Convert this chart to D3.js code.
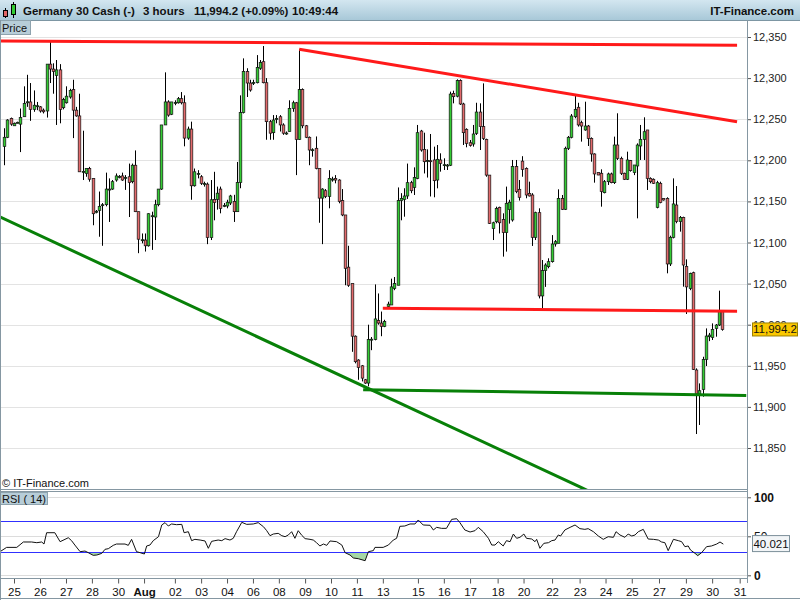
<!DOCTYPE html>
<html><head><meta charset="utf-8">
<script src="https://cdn.jsdelivr.net/npm/d3@7"></script>
<style>body{margin:0;background:#fff;} svg{display:block;font-family:"Liberation Sans",Arial,sans-serif;}</style>
</head><body><svg id="c" width="800" height="600"></svg>
<script>
// ---------------- DATA ----------------
const opens=[12217,12228,12251,12242,12245.5,12244,12253,12270.7,12271,12262,12266,12265,12261,12260,12317,12311,12303,12310,12264,12270,
12277,12286,12261,12254,12186,12184,12190,12178,12137.5,12139,12145.5,12146,12164.6,12165,12176,12180,12181,12178.8,12180,12174,
12194,12137.5,12103,12103,12096,12132.2,12131,12146,12165,12243,12271,12256,12270,12270,12275,12270,12227,12238,12169,12183.4,
12180,12171.2,12171,12106,12152.5,12152.5,12165,12144.8,12144.4,12148,12150,12137.5,12173,12258,12308,12294,12294.4,12294.4,12312,12320,
12294.4,12247,12233.6,12250.7,12253,12243,12232.8,12235,12263,12270,12225.5,12286,12242,12228,12212.5,12214.6,12190,12154,12163,12156,
12176.8,12178,12176,12151,12133.5,12070,12050,11986,11957,11950,11933,11929,11982,11982,12005,12002,11998,12022,12024,12044,
12048,12151,12152.5,12156.6,12172.8,12167,12178,12235.6,12213.3,12199.5,12199.5,12200.4,12176,12200.4,12194.3,12193.9,12194,12281.4,12278,12296.9,
12268.5,12237.7,12221.4,12219.8,12232.8,12258.7,12241,12225.5,12182,12117,12125.3,12142.8,12128,12112,12140,12127.4,12192.3,12164.7,12199,12190.2,
12159.8,12157.8,12106.3,12136.3,12035,12065.8,12070.6,12076.7,12098.2,12099,12153.7,12140.4,12214.6,12228,12253,12264.5,12245.8,12236.9,12241.7,12226.7,
12207.7,12185,12184.2,12160.6,12174,12183.4,12172.8,12218.6,12202.4,12184.2,12176.9,12199.6,12185,12193.1,12217.4,12225.5,12236.9,12178,12176.9,12142.8,
12172,12153.7,12153.7,12073.9,12106.3,12145.6,12125.4,12130.6,12071,12044.2,12063.3,11944.9,11915.7,11921.3,11957.8,11985.4,11984.6,11995.5,11999.6,12015.8];
const highs=[12239,12250,12252,12246,12247,12263,12290,12304,12294,12285,12271,12266,12263,12317,12346,12318,12322,12317,12276,12290,
12287,12298,12265,12281,12236,12190,12192,12178,12139.5,12162,12148,12185,12178,12176,12184,12182,12185,12182,12196,12196,
12212,12137.5,12111,12111,12135.5,12137.5,12152,12165,12243,12307,12273,12271,12273,12277,12283,12279,12241,12247,12190,12188,
12182,12174,12173,12176,12186,12168,12168,12148,12152,12158,12158,12198,12279,12324,12312,12298,12298,12328,12322,12339,
12300,12249,12255,12255,12255,12245,12235,12273,12272.5,12271,12335,12287.5,12243,12229,12214.6,12229,12190,12166,12165,12188,
12180,12182,12177,12165,12133.5,12096,12050,11987,11958,11951,11934,12000,11985,12049,12038,12016,12006,12028,12056,12058,
12167,12160,12166,12196,12175,12191.4,12243,12237,12233.6,12213.3,12232,12216.6,12218.6,12208.5,12202.4,12195.5,12283.5,12284.7,12298.5,12298.5,
12270,12238.9,12224.7,12243,12270,12269.3,12293.6,12226.3,12182,12125.3,12143.6,12143.6,12135.5,12168,12152,12200.4,12200.4,12176,12205,12191.4,
12174,12160,12137.5,12141.6,12078.7,12074.7,12080.8,12109,12103,12164.7,12157.8,12216.6,12229.6,12256.3,12278.2,12270,12248.2,12271.3,12243,12227.9,
12208.5,12185,12189,12176,12185,12185,12228.8,12257.2,12204.4,12185,12210.5,12200.4,12194.3,12220.6,12243,12252.3,12236.9,12179.3,12178,12175,
12174,12153.7,12155,12108.3,12178,12168.7,12132.2,12131.4,12079.5,12063.3,12064.5,11946.9,11928.6,11961,11995.5,11990,12001.6,12000.8,12041.4,12017];
const lows=[12194,12227,12242,12242,12245,12210,12253,12265,12248,12259,12261,12258,12257,12252,12294,12281,12243,12245,12262,12269,
12275,12227,12253,12186,12176,12180,12174,12121,12135.5,12107,12096,12144,12125,12164,12174,12178,12175,12164,12131,12172,
12137,12087,12099,12089,12095,12091,12103,12144,12164,12243,12253,12255,12267,12269,12268,12217,12225,12152,12168,12178,
12170,12168,12098,12103,12127,12140,12135.5,12143,12141.6,12145.6,12125,12137.5,12166,12257,12277,12283.5,12291.6,12293.6,12310,12293.6,
12225,12225,12225,12245,12235,12231,12231,12235,12259,12182,12225,12239,12227,12194,12204.4,12189,12124,12098,12154,12141.6,
12174,12172,12147.7,12132,12048,12046,11967,11953,11933,11931,11928,11925,11969,11981,12000,11986,11997,12021,12024,12042,
12048,12127,12131.4,12153,12160,12157.8,12177,12210.5,12184,12179,12156,12155,12165.9,12186.2,12188.2,12188.2,12193,12269.3,12276.6,12267.3,
12218.6,12215.8,12216.6,12216.6,12230.8,12212.5,12224.7,12180,12122.5,12103,12123.3,12111,12082.8,12088.9,12123,12125.4,12160,12151,12180,12153.8,
12156,12095.8,12103,12032,12020,12046,12068.6,12075.5,12095,12099,12139.5,12139.5,12212.5,12226.7,12251.1,12241,12222.7,12236,12217.4,12198.3,
12172.8,12182,12143.6,12159.8,12170,12172,12171.2,12200.4,12182.1,12176,12176,12186.2,12182,12129.4,12200.4,12200.4,12163.9,12172,12171.2,12141.6,
12147.7,12151,12062.5,12071.4,12105,12123.4,12113.2,12046.3,12013,12042,11944.9,11867,11878,11912.4,11949.7,11980,11981.4,11985.4,11998.4,11992.7];
const closes=[12228,12249,12244,12245,12246.2,12252,12269,12271.2,12262,12267,12266.4,12260,12259,12317,12311,12308,12310,12262,12274,12278,
12285,12261,12254,12186,12186.5,12190,12177,12135,12138,12144,12146,12165,12165,12174,12181,12180.4,12176,12179.2,12173,12194,
12137.5,12104,12103.4,12096,12135,12132.6,12146,12165,12243,12271,12255,12271,12270.4,12275,12270,12227,12238,12169,12186,12183.8,
12172,12171.6,12106,12152,12148.5,12160,12141.5,12145.2,12149,12156.6,12137.5,12173,12258,12308,12294,12285.5,12294.8,12313,12319,12294.4,
12247,12233,12249,12251,12243,12233,12233.2,12263,12270,12225.5,12286,12242,12228,12212.5,12212.9,12190,12154,12165,12156,12178,
12177.2,12176,12150,12133.5,12068.6,12048,11986,11955,11948,11935,11929,11982,11982.4,12007,12002,11998,12004,12025,12046,12050,
12151,12153.7,12156.6,12172.8,12163,12179,12233.6,12212.5,12198.3,12199.9,12199,12175.2,12201.2,12196.3,12194.7,12194.2,12280.6,12277.4,12296.9,12268.5,
12233.6,12220.6,12218.2,12232,12258.7,12241,12226.7,12182,12123.3,12124,12141.5,12124,12112,12147.7,12149,12192.3,12161.9,12155,12189,12157.8,
12156.6,12106.3,12136.3,12035,12065.8,12072.6,12076.7,12098.2,12101,12153.7,12140.4,12214.6,12228,12253.9,12262,12243,12241.7,12241.7,12226.7,12207.7,
12183.4,12182.1,12161.9,12174,12183.4,12172.8,12218.6,12202.4,12184.2,12176.9,12200.4,12187.4,12194.3,12218.6,12225.5,12234.8,12178,12174,12172,12172.8,
12148.5,12151.7,12073.9,12106.3,12146.9,12125.4,12130.6,12072.6,12046,12062.4,11945.7,11915.7,11919.7,11957.8,11986.2,11987.4,11994.3,11999.6,12015.8,11994.2];

// RSI(14) polyline vertices: candle position and value
const rsiIdx=[-1.2,0.8,3.9,5.9,8.4,10,11.5,12.2,13,15.5,17.1,18.6,19.6,20.6,21.6,23.2,24.7,25.7,27.2,28.3,29.8,30.8,31.8,33.3,34.3,36.9,37.9,38.9,40.4,41.5,42.8,43.5,44.5,45.5,47.1,48.1,49.1,50.1,51.1,52.6,54.2,54.9,56.2,57.2,58.2,59.8,61.3,62.3,63.3,64.3,65.3,66.4,67.4,68.9,69.9,70.9,72.5,74,76,77.5,79.1,80.1,81.1,82.1,83.6,84.7,85.7,86.7,87.7,88.7,89.7,90.8,91.8,93.3,94.3,95.3,96.3,97.4,98.4,99.4,101.4,103,104,105.5,106.5,108,110.1,111.1,112.6,113.1,115.6,117.2,118.7,119.7,120.7,
122.2,123.8,125.3,126.3,127.8,129.9,130.9,131.9,133.4,134.9,136.5,138,139,140.5,142.1,143.6,144.6,146.1,147.7,148.7,149.7,150.7,152.2,153.2,154.3,155.3,156.3,157.3,158.5,159.3,160.9,161.9,162.4,163.4,164.6,166,167,168,169,169.7,171,172.6,174.1,175.6,177.1,178.1,179.7,181.2,182.7,184.2,185.8,186.6,187.8,189.3,190.3,191.4,192.4,193.4,194.9,196.4,198,199.5,200.5,201.5,202.5,204.1,205.6,206.6,207.6,208.6,209.3,210.7,211.5,212.7,214.2,215.7,217.3,218.3,219.3];
const rsiVal=[30.3,35.8,35.8,42.7,42.7,41.8,42.7,40.1,54.6,54.6,43.1,46.1,48.2,44.4,38.8,30.3,31.1,29,25.6,26,28.1,33.3,34.1,38.4,40.1,40.1,38.4,46.1,30.3,29,27.3,37.6,38.8,44.4,49.5,64.5,67.5,63.2,65.8,64.9,65.3,54.6,55.9,44.4,46.1,45.2,44,34.6,43.5,44.4,45.2,44.4,47,45.2,47.4,55.9,67.9,65.3,65.8,67.5,62.3,57.2,50.8,52.9,53.8,50.8,49.5,51.7,55.9,47.4,57.2,51.2,47,46.1,45.2,41.8,37.6,40.1,38.4,44,43.1,38.8,29,26,22.2,21.3,18.7,30.3,31.6,35.8,35.8,38.8,45.2,47.4,62.8,
63.2,65.8,65.8,70.9,64.5,64.1,58.1,61.5,60.2,60.2,71.7,72.6,67.5,58.1,55.5,57.2,61.5,55.9,47.4,38.8,38.8,43.1,37.6,44.4,43.1,52.9,47.4,48.7,52.9,47.4,46.5,43.1,46.1,34.6,41,41.8,44.4,45.2,51.7,50.4,58.1,61.5,64.5,59.8,58.9,59.8,55.9,50.4,46.1,49.5,48.7,55.9,51.7,48.7,52.9,50.4,51.7,55.9,58.9,46.5,46.1,45.2,42.7,41.8,31.6,46.1,44.4,43.1,36.7,37.6,32.4,28.1,25.2,29,36.7,37.6,40.1,42.7,40.021];

const priceTicks=[11850,11900,11950,12000,12050,12100,12150,12200,12250,12300,12350];
const rsiGrid=[0,50,100];
const rsiLevels=[30,70];
const dateTickIdx=[3.05,10.98,18.9,26.8,34.8,42.7,52.1,60.1,68,75.9,83.8,91.8,99.7,107.6,115.5,126.2,134.1,142.1,150.5,158.4,167.1,175.5,183.4,191.4,199.7,207.9,215.9,224.3];
const dateTickLabels=["25","26","27","28","30","Aug","02","03","04","06","08","09","10","11","13","15","16","17","18","20","22","23","24","25","27","29","30","31"];

// trend lines as [candle position, price]
const redTopLine=[[-1.2,12345],[223.5,12340]];
const redFallingLine=[[90,12335],[223.5,12247]];
const redSupportLine=[[115.5,12020],[223.5,12016.5]];
const greenFlatLine=[[109.5,11921],[226.3,11914]];
const greenFallingLine=[[-1.2,12131],[175.6,11802.6],[180,11794.4]];

const lastPrice=11994.2, lastRsi=40.021;
const headerTitle="Germany 30 Cash (-)", headerPeriod="3 hours", headerQuote="11,994.2 (+0.09%)", headerTime="10:49:44";

// ---------------- DRAW ----------------
const svg=d3.select('#c');
const border='#8597a2';
const x=d3.scaleLinear().domain([0,opens.length-1]).range([4,722.3]);
const y=d3.scaleLinear().domain([11850,12350]).range([448,37]);
const yr=d3.scaleLinear().domain([0,100]).range([575.3,497.3]);
const AX=747;

const defs=svg.append('defs');
const hg=defs.append('linearGradient').attr('id','hg').attr('x1',0).attr('y1',0).attr('x2',0).attr('y2',1);
hg.append('stop').attr('offset','0%').attr('stop-color','#d3e6f0');
hg.append('stop').attr('offset','100%').attr('stop-color','#a8c8d8');
defs.append('clipPath').attr('id','cp').append('rect').attr('x',1).attr('y',21).attr('width',AX-1).attr('height',468);
defs.append('clipPath').attr('id','cr').append('rect').attr('x',1).attr('y',492).attr('width',AX-1).attr('height',86);
defs.append('clipPath').attr('id','below30').append('rect').attr('x',1).attr('y',yr(30)).attr('width',AX-1).attr('height',578-yr(30));

// header
svg.append('rect').attr('x',0).attr('y',0).attr('width',800).attr('height',20).attr('fill','url(#hg)');
svg.append('line').attr('x1',0).attr('x2',800).attr('y1',20.5).attr('y2',20.5).attr('stroke','#7d96a3');
const ic=svg.append('g');
ic.append('line').attr('x1',5.5).attr('x2',5.5).attr('y1',8).attr('y2',18).attr('stroke','#000');
ic.append('rect').attr('x',3.5).attr('y',10.5).attr('width',4).attr('height',6).attr('fill','#e06666').attr('stroke','#000');
ic.append('line').attr('x1',13.5).attr('x2',13.5).attr('y1',2).attr('y2',18).attr('stroke','#000');
ic.append('rect').attr('x',11.5).attr('y',4.5).attr('width',4).attr('height',10).attr('fill','#33cc33').attr('stroke','#000');
const ht=svg.append('g').attr('font-size','11.5px').attr('font-weight','bold').attr('fill','#111');
ht.append('text').attr('x',23).attr('y',15).text(headerTitle);
ht.append('text').attr('x',143).attr('y',15).text(headerPeriod);
ht.append('text').attr('x',194).attr('y',15).text(headerQuote);
ht.append('text').attr('x',292).attr('y',15).text(headerTime);
ht.append('text').attr('x',794).attr('y',15).attr('text-anchor','end').text('IT-Finance.com');

// price grid
svg.append('g').selectAll('line').data(priceTicks).join('line')
  .attr('x1',1).attr('x2',AX).attr('y1',d=>Math.round(y(d))+0.5).attr('y2',d=>Math.round(y(d))+0.5)
  .attr('stroke','#e3e3e3');

// candles
const cg=svg.append('g').attr('clip-path','url(#cp)');
const idx=d3.range(opens.length);
cg.selectAll('line.w').data(idx).join('line').attr('class','w')
  .attr('x1',i=>Math.round(x(i))+0.5).attr('x2',i=>Math.round(x(i))+0.5)
  .attr('y1',i=>y(highs[i])).attr('y2',i=>y(lows[i])).attr('stroke','#000').attr('stroke-width',1);
cg.selectAll('rect.b').data(idx).join('rect').attr('class','b')
  .attr('x',i=>Math.round(x(i))+0.5-1.3).attr('width',2.6)
  .attr('y',i=>y(Math.max(opens[i],closes[i])))
  .attr('height',i=>Math.max(1,Math.abs(y(opens[i])-y(closes[i]))))
  .attr('fill',i=>closes[i]>=opens[i]?'#33cc33':'#e36a6c')
  .attr('stroke','#111').attr('stroke-width',0.7);

// trend lines
const tl=d3.line().x(d=>x(d[0])).y(d=>y(d[1]));
const tg=svg.append('g').attr('clip-path','url(#cp)').attr('fill','none').attr('stroke-width',3);
[[redTopLine,'#ff1a1a'],[redFallingLine,'#ff1a1a'],[redSupportLine,'#ff1a1a'],[greenFlatLine,'#088008'],[greenFallingLine,'#088008']]
  .forEach(([d,c])=>tg.append('path').attr('d',tl(d)).attr('stroke',c));

// price label + copyright
svg.append('rect').attr('x',0.5).attr('y',20.5).attr('width',30).attr('height',14).attr('fill','#b7cdd8').attr('stroke','#8ea3ae');
svg.append('text').attr('x',2).attr('y',31.5).attr('font-size','11px').attr('fill','#111').text('Price');
svg.append('text').attr('x',2).attr('y',487).attr('font-size','11px').attr('fill','#111').text('© IT-Finance.com');

// right price axis
const ya=svg.append('g').attr('transform',`translate(${AX},0)`)
  .call(d3.axisRight(y).tickValues(priceTicks).tickSize(4).tickPadding(2).tickFormat(d3.format(',')));
ya.select('.domain').remove();
ya.selectAll('line').attr('stroke','#555');
ya.selectAll('text').attr('font-size','11px').attr('fill','#222').attr('font-family','"Liberation Sans",Arial,sans-serif');
// last price marker (covers the 12,000 label as in the original)
svg.append('rect').attr('x',752.5).attr('y',y(lastPrice)-6.5).attr('width',45).attr('height',13).attr('fill','#fbc800').attr('stroke','#9c8000');
svg.append('text').attr('x',775).attr('y',y(lastPrice)+4).attr('text-anchor','middle').attr('font-size','11.5px').attr('fill','#111').text(d3.format(',.1f')(lastPrice));

// RSI panel
svg.append('g').selectAll('line').data(rsiGrid).join('line')
  .attr('x1',1).attr('x2',AX).attr('y1',d=>Math.round(yr(d))+0.5).attr('y2',d=>Math.round(yr(d))+0.5).attr('stroke','#dcdcdc');
const rsiPts=rsiIdx.map((d,i)=>[d,rsiVal[i]]);
const rg=svg.append('g').attr('clip-path','url(#cr)');
rg.append('path').attr('clip-path','url(#below30)')
  .attr('d',d3.area().x(d=>x(d[0])).y0(yr(30)).y1(d=>yr(d[1]))(rsiPts)).attr('fill','#a6d8a6');
rg.selectAll('line.lvl').data(rsiLevels).join('line').attr('class','lvl')
  .attr('x1',1).attr('x2',AX).attr('y1',d=>Math.round(yr(d))+0.5).attr('y2',d=>Math.round(yr(d))+0.5)
  .attr('stroke','#3030ff').attr('stroke-width',1);
rg.append('path').attr('d',d3.line().x(d=>x(d[0])).y(d=>yr(d[1]))(rsiPts)).attr('fill','none').attr('stroke','#111').attr('stroke-width',1);
svg.append('rect').attr('x',0.5).attr('y',492.5).attr('width',47).attr('height',12).attr('fill','#b7cdd8').attr('stroke','#8ea3ae');
svg.append('text').attr('x',2).attr('y',502.5).attr('font-size','11px').attr('fill','#111').text('RSI ( 14)');

const ra=svg.append('g').attr('transform',`translate(${AX},0)`)
  .call(d3.axisRight(yr).tickValues(rsiGrid).tickSize(4).tickPadding(3).tickFormat(d3.format('d')));
ra.select('.domain').remove();
ra.selectAll('line').attr('stroke','#555');
ra.selectAll('text').attr('font-size','12px').attr('fill','#111').attr('font-weight',d=>d===50?'normal':'bold').attr('font-family','"Liberation Sans",Arial,sans-serif');
svg.append('rect').attr('x',752.5).attr('y',yr(lastRsi)-8.5).attr('width',37).attr('height',16).attr('fill','#f2f5f7').attr('stroke','#7c8f99');
svg.append('text').attr('x',771).attr('y',yr(lastRsi)+4).attr('text-anchor','middle').attr('font-size','11.5px').attr('fill','#111').text(d3.format('.3f')(lastRsi));

// x axis
const xa=svg.append('g').attr('transform','translate(0,578.5)')
  .call(d3.axisBottom(x).tickValues(dateTickIdx).tickSize(5).tickPadding(4).tickFormat((d,i)=>dateTickLabels[i]));
xa.select('.domain').remove();
xa.selectAll('line').attr('stroke','#555');
xa.selectAll('text').attr('font-size','11.5px').attr('fill','#111').attr('font-family','"Liberation Sans",Arial,sans-serif')
  .attr('font-weight',(d,i)=>dateTickLabels[i]==='Aug'?'bold':'normal');

// borders
const bd=svg.append('g').attr('stroke',border).attr('fill','none');
bd.append('line').attr('x1',0.5).attr('x2',0.5).attr('y1',20).attr('y2',600);
bd.append('line').attr('x1',AX+0.5).attr('x2',AX+0.5).attr('y1',20).attr('y2',583);
bd.append('line').attr('x1',0).attr('x2',AX).attr('y1',489.5).attr('y2',489.5);
bd.append('line').attr('x1',0).attr('x2',AX).attr('y1',491.5).attr('y2',491.5);
bd.append('line').attr('x1',0).attr('x2',AX).attr('y1',578.5).attr('y2',578.5);
bd.append('line').attr('x1',0).attr('x2',800).attr('y1',598.5).attr('y2',598.5);
</script></body></html>
